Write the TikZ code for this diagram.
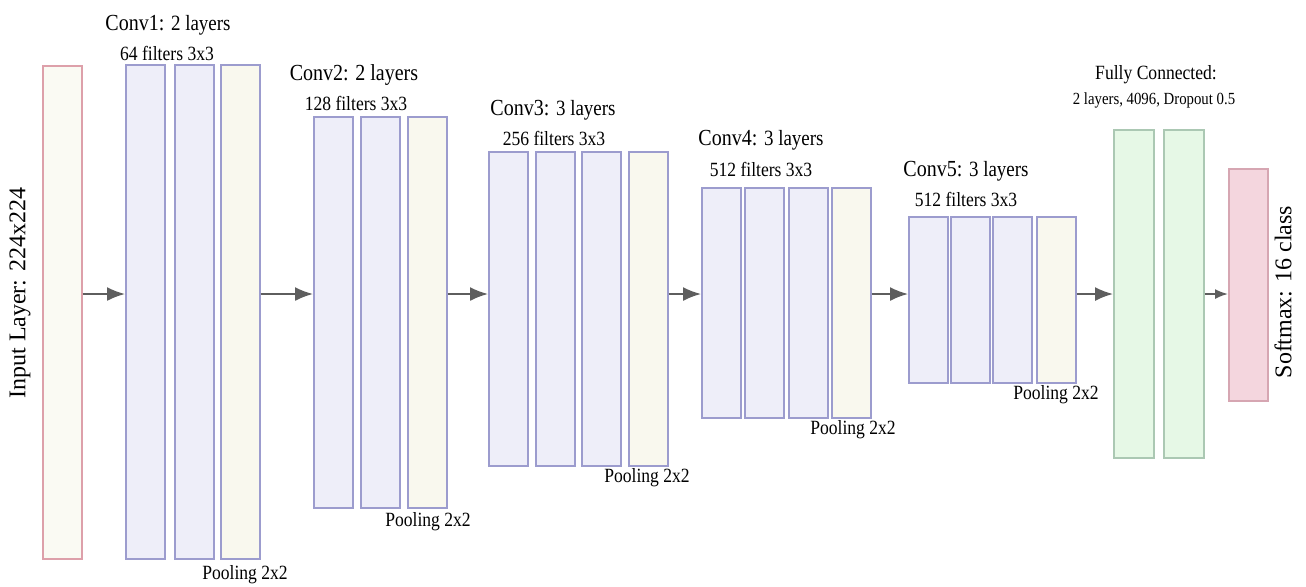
\documentclass[tikz,border=0pt]{standalone}
\usepackage{fontspec}
\setmainfont{Liberation Serif}
\newfontfamily\narrowserif[FakeStretch=0.87]{Liberation Serif}
\usepackage{xcolor}
\usetikzlibrary{arrows.meta}

\definecolor{infill}{HTML}{FAFAF3}
\definecolor{inedge}{HTML}{DDA0AA}
\definecolor{convfill}{HTML}{EEEEF9}
\definecolor{convedge}{HTML}{9C9CCE}
\definecolor{poolfill}{HTML}{F9F8EE}
\definecolor{fcfill}{HTML}{E6F8E6}
\definecolor{fcedge}{HTML}{ABC8B3}
\definecolor{smfill}{HTML}{F4D6DE}
\definecolor{smedge}{HTML}{D6A6B2}
\definecolor{arrowgray}{HTML}{5E5E5E}

\newcommand\lyr[1]{{\fontsize{10.9}{12}\selectfont #1}}

\tikzset{
    layer/.style={draw, line width=0.8pt, inner sep=0pt, anchor=north west, minimum width=19.5pt},
    inbox/.style={layer, draw=inedge, fill=infill},
    convbox/.style={layer, draw=convedge, fill=convfill},
    poolbox/.style={layer, draw=convedge, fill=poolfill},
    fcbox/.style={layer, draw=fcedge, fill=fcfill, minimum width=20pt},
    smbox/.style={layer, draw=smedge, fill=smfill},
    flow/.style={draw=arrowgray, line width=0.9pt, -{Latex[length=9pt,width=7pt]}},
    title/.style={inner sep=0pt, font=\narrowserif\fontsize{11.5}{13}\selectfont},
    sub/.style={inner sep=0pt, font=\narrowserif\fontsize{10.1}{12}\selectfont},
    side/.style={inner sep=0pt, rotate=90, font=\fontsize{12}{14}\selectfont}
}

\begin{document}
\begin{tikzpicture}[x=0.5pt, y=-0.5pt]
    \useasboundingbox (0,0) rectangle (1306,586);
    \coordinate (axis) at (0,294);

    % Input
    \node[inbox, minimum height=246.5pt] (in) at (42,65) {};
    \node[side] (inlbl) at (20,293) {Input Layer: 224x224};

    % Conv1
    \foreach \x [count=\i] in {125,174}
        \node[convbox, minimum height=247pt] (c1-\i) at (\x,64) {};
    \node[poolbox, minimum height=247pt] (p1) at (220,64) {};
    \node[title] (t1) at (168,25) {Conv1: \lyr{2 layers}};
    \node[sub] (f1) at (167,53) {64 filters 3x3};
    \node[sub] (pl1) at (245,575) {Pooling 2x2};

    % Conv2
    \foreach \x [count=\i] in {313,360}
        \node[convbox, minimum height=195.5pt] (c2-\i) at (\x,116) {};
    \node[poolbox, minimum height=195.5pt] (p2) at (407,116) {};
    \node[title] (t2) at (354,75) {Conv2: 2 layers};
    \node[sub] (f2) at (356,103) {128 filters 3x3};
    \node[sub] (pl2) at (428,522) {Pooling 2x2};

    % Conv3
    \foreach \x [count=\i] in {488,535,581}
        \node[convbox, minimum height=157pt] (c3-\i) at (\x,151) {};
    \node[poolbox, minimum height=157pt] (p3) at (628,151) {};
    \node[title] (t3) at (553,110) {Conv3: \lyr{3 layers}};
    \node[sub] (f3) at (554,138) {256 filters 3x3};
    \node[sub] (pl3) at (647,478) {Pooling 2x2};

    % Conv4
    \foreach \x [count=\i] in {701,744,788}
        \node[convbox, minimum height=115pt] (c4-\i) at (\x,187) {};
    \node[poolbox, minimum height=115pt] (p4) at (831,187) {};
    \node[title] (t4) at (761,140) {Conv4: \lyr{3 layers}};
    \node[sub] (f4) at (761,169) {512 filters 3x3};
    \node[sub] (pl4) at (853,430) {Pooling 2x2};

    % Conv5
    \foreach \x [count=\i] in {908,950,992}
        \node[convbox, minimum height=83pt] (c5-\i) at (\x,216) {};
    \node[poolbox, minimum height=83pt] (p5) at (1036,216) {};
    \node[title] (t5) at (966,171) {Conv5: \lyr{3 layers}};
    \node[sub] (f5) at (966,199) {512 filters 3x3};
    \node[sub] (pl5) at (1056,395) {Pooling 2x2};

    % Fully connected
    \foreach \x [count=\i] in {1113,1163}
        \node[fcbox, minimum height=164pt] (fc-\i) at (\x,129) {};
    \node[sub] (tfc) at (1156,75) {Fully Connected:};
    \node[inner sep=0pt, font=\narrowserif\fontsize{8.5}{10}\selectfont] (ffc) at (1154,100) {2 layers, 4096, Dropout 0.5};

    % Softmax
    \node[smbox, minimum height=116pt] (sm) at (1228,168) {};
    \node[side] (smlbl) at (1283,292) {Softmax: 16 class};

    % Arrows
    \draw[flow] (in.east |- axis) -- (c1-1.west |- axis);
    \draw[flow] (p1.east |- axis) -- (c2-1.west |- axis);
    \draw[flow] (p2.east |- axis) -- (c3-1.west |- axis);
    \draw[flow] (p3.east |- axis) -- (c4-1.west |- axis);
    \draw[flow] (p4.east |- axis) -- (c5-1.west |- axis);
    \draw[flow] (p5.east |- axis) -- (fc-1.west |- axis);
    \draw[flow, -{Latex[length=6.5pt,width=5pt]}] (fc-2.east |- axis) -- (sm.west |- axis);
\end{tikzpicture}
\end{document}
